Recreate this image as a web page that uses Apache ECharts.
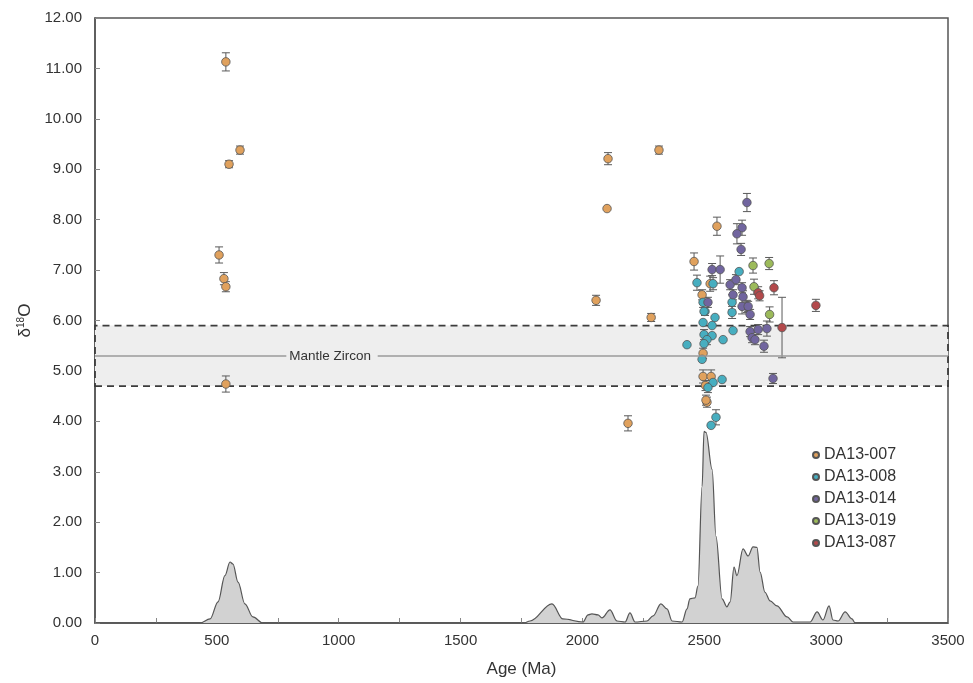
<!DOCTYPE html>
<html>
<head>
<meta charset="utf-8">
<script src="https://cdn.jsdelivr.net/npm/echarts@6/dist/echarts.min.js"></script>
<style>
  html, body { margin: 0; padding: 0; background: #fff; }
  #chart { width: 973px; height: 683px; }
</style>
</head>
<body>
<div id="chart"></div>
<script>
// Zircon oxygen isotopes vs. U-Pb age: [age (Ma), δ18O (‰), 1σ error]
const sampleNames = ['DA13-007', 'DA13-008', 'DA13-014', 'DA13-019', 'DA13-087'];
const sampleColors = ['#e0a15d', '#47aec0', '#71659f', '#9cba5a', '#b3494b'];

const da13_007 = [
  [537, 11.13, 0.18], [550, 9.10, 0.07], [595, 9.38, 0.08], [509, 7.30, 0.16],
  [529, 6.83, 0.12], [537, 6.67, 0.10], [537, 4.74, 0.16], [2056, 6.40, 0.10],
  [2105, 9.21, 0.12], [2101, 8.22, 0], [2187, 3.96, 0.15], [2282, 6.06, 0.08],
  [2314, 9.38, 0.08], [2458, 7.17, 0.17], [2552, 7.87, 0.18], [2524, 6.73, 0.15],
  [2491, 6.51, 0.10], [2495, 5.35, 0.10], [2495, 4.89, 0.13], [2528, 4.89, 0.13],
  [2511, 4.38, 0.10], [2505, 4.71, 0.10], [2507, 4.42, 0.10]
];
const da13_008 = [
  [2470, 6.75, 0.15], [2536, 6.73, 0.12], [2643, 6.97, 0], [2614, 6.36, 0.15],
  [2495, 6.36, 0.10], [2503, 6.18, 0.08], [2499, 6.18, 0], [2495, 5.96, 0],
  [2532, 5.90, 0], [2544, 6.06, 0], [2429, 5.52, 0], [2499, 5.72, 0.10],
  [2532, 5.70, 0], [2511, 5.62, 0.10], [2499, 5.54, 0], [2577, 5.62, 0],
  [2618, 5.80, 0], [2491, 5.23, 0], [2573, 4.83, 0], [2536, 4.77, 0],
  [2515, 4.67, 0.10], [2548, 4.08, 0.15], [2528, 3.92, 0], [2614, 6.16, 0.12]
];
const da13_014 = [
  [2675, 8.34, 0.18], [2655, 7.84, 0.15], [2634, 7.72, 0.20], [2651, 7.41, 0.12],
  [2532, 7.01, 0.12], [2565, 7.01, 0.27], [2606, 6.71, 0.10], [2630, 6.81, 0.10],
  [2655, 6.65, 0.10], [2618, 6.51, 0.10], [2659, 6.47, 0.12], [2515, 6.36, 0.10],
  [2675, 6.28, 0.12], [2688, 6.12, 0.10], [2655, 6.28, 0.15], [2680, 6.28, 0.10],
  [2688, 5.78, 0.10], [2721, 5.82, 0.10], [2696, 5.66, 0.10], [2757, 5.84, 0.15],
  [2708, 5.62, 0.10], [2745, 5.49, 0.12], [2782, 4.85, 0.10]
];
const da13_019 = [
  [2700, 7.09, 0.15], [2766, 7.13, 0.12], [2704, 6.67, 0.15], [2768, 6.12, 0.15]
];
const da13_087 = [
  [2786, 6.65, 0.14], [2721, 6.55, 0.12], [2958, 6.30, 0.12], [2819, 5.86, 0.60],
  [2727, 6.49, 0.10]
];
const sampleData = [da13_007, da13_008, da13_014, da13_019, da13_087];

// Age probability density curve: [age (Ma), relative probability]
const densityCurve = [
  [0, 0], [431, 0], [472, 0.08], [505, 0.42], [533, 0.94], [554, 1.21], [566, 1.17],
  [587, 0.81], [615, 0.38], [648, 0.12], [689, 0], [1760, 0], [1785, 0.04],
  [1875, 0.38], [1920, 0.08], [2002, 0.02], [2023, 0.16], [2039, 0.18], [2064, 0.16],
  [2080, 0.10], [2113, 0.26], [2142, 0.04], [2175, 0.02], [2195, 0.20], [2216, 0.02],
  [2265, 0.04], [2290, 0.14], [2322, 0.38], [2347, 0.28], [2368, 0.04], [2409, 0.02],
  [2429, 0.28], [2441, 0.48], [2462, 0.50], [2474, 0.73], [2491, 2.71], [2499, 3.80],
  [2507, 3.78], [2532, 3.05], [2548, 1.72], [2573, 0.48], [2593, 0.32], [2606, 0.42],
  [2622, 1.11], [2634, 0.94], [2659, 1.47], [2680, 1.33], [2700, 1.51], [2716, 1.50],
  [2729, 1.01], [2749, 0.61], [2770, 0.44], [2798, 0.34], [2840, 0.12], [2864, 0.02],
  [2934, 0.02], [2963, 0.22], [2987, 0.06], [3012, 0.34], [3028, 0.06], [3049, 0.04],
  [3078, 0.22], [3106, 0.08], [3119, 0], [3500, 0]
];

// Mantle zircon field (δ18O = 5.3 ± 0.6)
const mantleLow = 4.7;
const mantleMid = 5.3;
const mantleHigh = 5.9;

const xTicks = [0, 500, 1000, 1500, 2000, 2500, 3000, 3500];

const chart = echarts.init(document.getElementById('chart'), null, { renderer: 'canvas' });

const FONT = '"Liberation Sans", Arial, sans-serif';
const AXIS_COLOR = '#555';
const TEXT_COLOR = '#333';

// every point with its error, for the error-bar layer
const allErrors = [];
sampleData.forEach(arr => arr.forEach(p => { if (p[2] > 0) allErrors.push(p); }));

const series = [
  {
    name: 'mantle',
    type: 'line',
    data: [],
    silent: true,
    z: 1,
    markArea: {
      silent: true,
      itemStyle: {
        color: '#eeeeee',
        borderColor: '#3c3c3c',
        borderWidth: 1.8,
        borderType: [7, 5]
      },
      data: [[{ coord: [0, mantleLow] }, { coord: [3500, mantleHigh] }]]
    },
    markLine: {
      silent: true,
      symbol: 'none',
      lineStyle: { color: '#9a9a9a', width: 1.5, type: 'solid' },
      data: [
        [
          { coord: [0, mantleMid], label: { show: true, position: 'end', formatter: 'Mantle Zircon', color: TEXT_COLOR, fontSize: 13.5, fontFamily: FONT, distance: 3 } },
          { coord: [785, mantleMid] }
        ],
        [
          { coord: [1160, mantleMid], label: { show: false } },
          { coord: [3500, mantleMid] }
        ]
      ]
    }
  },
  {
    name: 'density',
    type: 'line',
    data: densityCurve,
    smooth: 0.35,
    smoothMonotone: 'x',
    showSymbol: false,
    silent: true,
    z: 2,
    lineStyle: { color: '#555', width: 1.2 },
    areaStyle: { color: '#d2d2d2', opacity: 1 }
  },
  {
    name: 'errors',
    type: 'custom',
    data: allErrors,
    silent: true,
    z: 3,
    encode: { x: 0, y: 1 },
    renderItem: function (params, api) {
      const x = api.value(0), y = api.value(1), e = api.value(2);
      const top = api.coord([x, y + e]);
      const bot = api.coord([x, y - e]);
      const hw = 4;
      const style = { stroke: '#5a5a5a', lineWidth: 1 };
      return {
        type: 'group',
        children: [
          { type: 'line', shape: { x1: top[0], y1: top[1], x2: bot[0], y2: bot[1] }, style: style },
          { type: 'line', shape: { x1: top[0] - hw, y1: top[1], x2: top[0] + hw, y2: top[1] }, style: style },
          { type: 'line', shape: { x1: bot[0] - hw, y1: bot[1], x2: bot[0] + hw, y2: bot[1] }, style: style }
        ]
      };
    }
  }
];

sampleNames.forEach((name, i) => {
  series.push({
    name: name,
    type: 'scatter',
    data: sampleData[i].map(p => [p[0], p[1]]),
    symbol: 'circle',
    symbolSize: 8.5,
    z: 4,
    itemStyle: { color: sampleColors[i], borderColor: '#555', borderWidth: 0.8, opacity: 1 }
  });
});

chart.setOption({
  animation: false,
  backgroundColor: '#fff',
  grid: {
    left: 95, right: 25, top: 18, bottom: 59,
    show: true, borderColor: AXIS_COLOR, borderWidth: 1.5, backgroundColor: 'transparent'
  },
  legend: {
    data: sampleNames,
    orient: 'vertical',
    left: 807,
    top: 442,
    itemWidth: 6,
    itemHeight: 6,
    itemGap: 6,
    icon: 'circle',
    textStyle: { fontSize: 16, color: TEXT_COLOR, fontFamily: FONT, padding: [0, 0, 0, 0] }
  },
  xAxis: {
    type: 'value',
    min: 0,
    max: 3500,
    interval: 250,
    name: 'Age (Ma)',
    nameLocation: 'middle',
    nameGap: 38,
    nameTextStyle: { fontSize: 17, color: TEXT_COLOR, fontFamily: FONT },
    axisLine: { show: true, lineStyle: { color: AXIS_COLOR, width: 1.5 } },
    axisTick: { show: true, inside: true, length: 5, lineStyle: { color: '#888', width: 1 } },
    axisLabel: {
      fontSize: 15, color: TEXT_COLOR, fontFamily: FONT, margin: 10,
      formatter: v => (xTicks.indexOf(v) >= 0 ? String(v) : '')
    },
    splitLine: { show: false }
  },
  yAxis: {
    type: 'value',
    min: 0,
    max: 12,
    interval: 1,
    name: '{a|δ}{b|18}{a|O}',
    nameLocation: 'middle',
    nameGap: 52,
    nameRotate: 90,
    nameTextStyle: {
      fontFamily: FONT,
      rich: {
        a: { fontSize: 17, color: TEXT_COLOR, fontFamily: FONT },
        b: { fontSize: 10, color: TEXT_COLOR, fontFamily: FONT, verticalAlign: 'top', padding: [0, 0, 8, 0] }
      }
    },
    axisLine: { show: true, lineStyle: { color: AXIS_COLOR, width: 1.5 } },
    axisTick: { show: true, inside: true, length: 5, lineStyle: { color: '#888', width: 1 } },
    axisLabel: {
      fontSize: 15, color: TEXT_COLOR, fontFamily: FONT, margin: 13,
      formatter: v => v.toFixed(2)
    },
    splitLine: { show: false }
  },
  series: series
});
</script>
</body>
</html>
